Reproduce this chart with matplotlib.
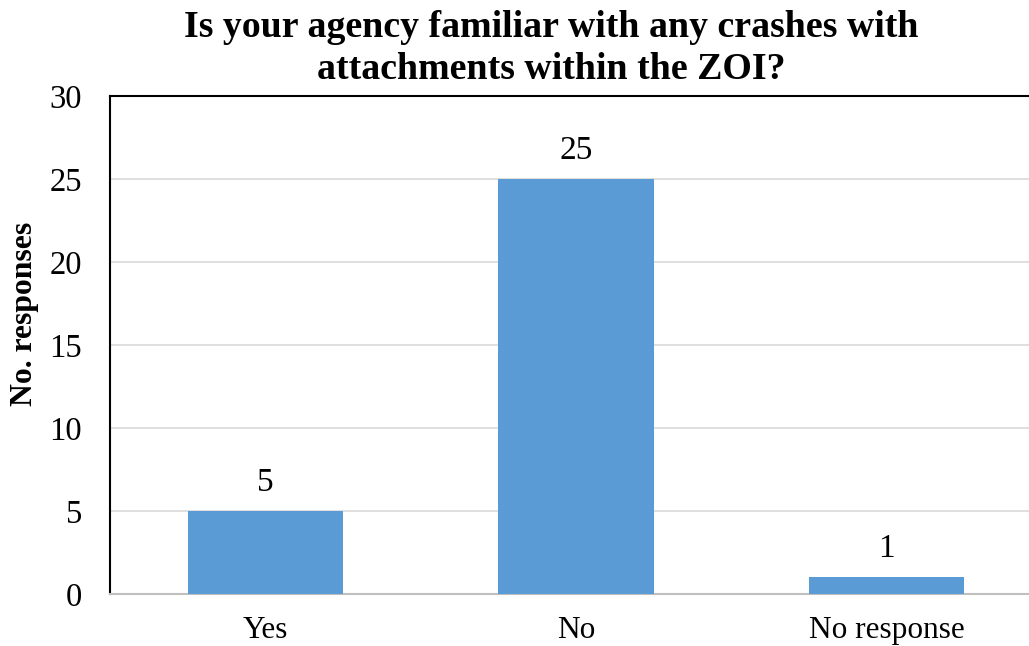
import matplotlib.pyplot as plt
import numpy as np

# survey answers for the ZOI attachment crash question
categories = ["Yes", "No", "No response"]
responses = [5, 25, 1]
y_ticks = [0, 5, 10, 15, 20, 25, 30]

plt.rcParams['font.family'] = ['Liberation Serif', 'DejaVu Serif']

W, H = 1029, 646
fig = plt.figure(figsize=(W / 100, H / 100), dpi=100)
# plot area runs a little past the right edge of the figure
ax = fig.add_axes([110 / W, (H - 594) / H, (1042 - 110) / W, (594 - 96) / H])

x = np.arange(len(categories))
bars = ax.bar(x, responses, width=0.5, color='#5B9BD5', zorder=3)

for b, v in zip(bars, responses):
    ax.annotate(str(v), (b.get_x() + b.get_width() / 2, v),
                xytext=(0, 9.5), textcoords='offset points',
                ha='center', va='bottom', fontsize=24)

ax.set_xlim(-0.5, 2.5)
ax.set_ylim(0, 30)
ax.set_yticks(y_ticks)
ax.set_xticks(x)
ax.set_xticklabels(categories, fontsize=22.5)
ax.tick_params(axis='y', labelsize=23.5, length=0, pad=20)
ax.tick_params(axis='x', length=0, pad=16)

ax.yaxis.grid(True, color='#D9D9D9', linewidth=1.2, zorder=0)
ax.set_axisbelow(True)

for s in ['top', 'left', 'right']:
    ax.spines[s].set_color('black')
    ax.spines[s].set_linewidth(1.5)
ax.spines['bottom'].set_color('#BFBFBF')
ax.spines['bottom'].set_linewidth(1.5)

ax.set_ylabel('No. responses', fontsize=22.8, fontweight='bold')
ax.yaxis.set_label_coords(-0.076, 0.562)
fig.suptitle('Is your agency familiar with any crashes with\nattachments within the ZOI?',
             fontsize=27.3, fontweight='bold', x=0.536, y=0.985, linespacing=1.28)

fig.savefig('out.png', dpi=100)
